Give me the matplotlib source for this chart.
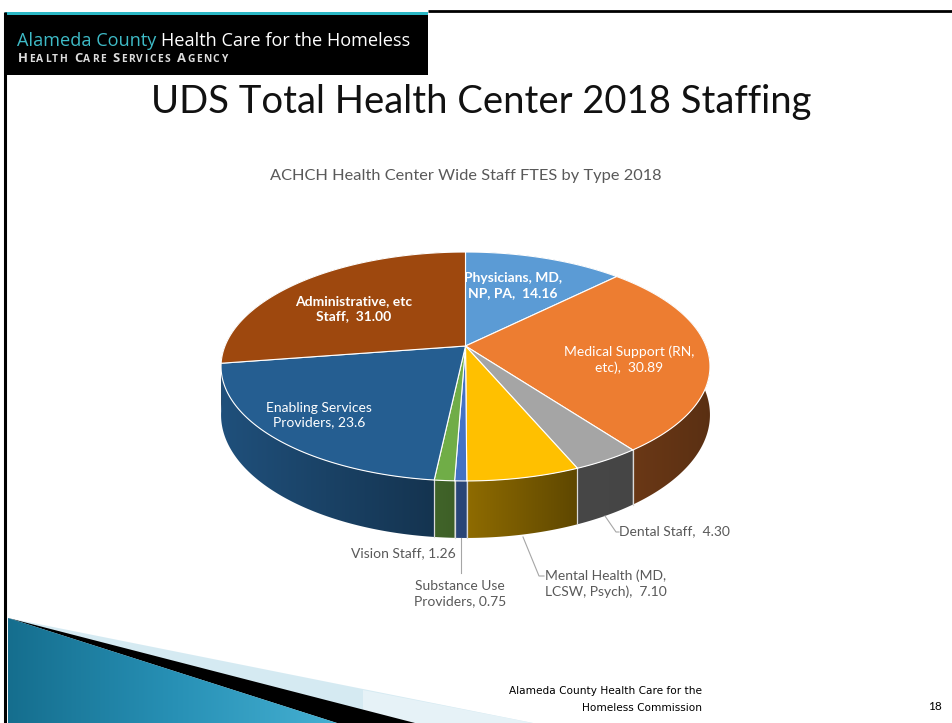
import numpy as np
import matplotlib.pyplot as plt
from matplotlib.patches import Polygon, Rectangle
from matplotlib.colors import to_rgb, LinearSegmentedColormap

# data, in Excel order (starts at 12 o'clock, goes clockwise)
names = ['Physicians, MD,\nNP, PA', 'Medical Support (RN,\netc)', 'Dental Staff',
         'Mental Health (MD,\nLCSW, Psych)', 'Substance Use\nProviders', 'Vision Staff',
         'Enabling Services\nProviders', 'Administrative, etc\nStaff']
ftes = [14.16, 30.89, 4.30, 7.10, 0.75, 1.26, 23.6, 31.00]
value_text = [' 14.16', ' 30.89', ' 4.30', ' 7.10', '0.75', '1.26', '23.6', ' 31.00']
colors = ['#5B9BD5', '#ED7D31', '#A5A5A5', '#FFC000', '#4472C4', '#70AD47', '#255E91', '#9E480E']

# side shading (light end, dark end) per slice
side_shade = [(0.5, 0.4), (0.45, 0.38), (0.43, 0.42), (0.56, 0.37), (0.62, 0.6),
              (0.58, 0.55), (0.85, 0.55), (0.5, 0.4)]

# label placement (pixels) and style
label_pos = [(513, 286), (629, 360), (619, 531), (545, 584), (460, 594), (456, 553),
             (319, 415), (354, 309)]
label_ha = ['center', 'center', 'left', 'left', 'center', 'right', 'center', 'center']
label_inside = [True, True, False, False, False, False, True, True]
label_bold = [True, False, False, False, False, False, False, True]
leaders = {2: [(605, 516), (616, 532), (619, 532)],
           3: [(523, 537), (539, 576), (544, 576)],
           4: [(461, 538), (461, 573)]}

# pie geometry (perspective view)
CX, CY = 465.5, 346.0
SX, SY = 240.5, 110.8
K = 0.179
DEPTH = 46.8

W, H = 953, 723
fig = plt.figure(figsize=(W / 100, H / 100), dpi=100)
ax = fig.add_axes([0, 0, 1, 1])
ax.set_xlim(0, W)
ax.set_ylim(H, 0)
ax.axis('off')
renderer = fig.canvas.get_renderer()

FONT = ['Lato', 'DejaVu Sans']
HEAD = ['Open Sans', 'DejaVu Sans']


def project(theta, z=0.0):
    th = np.radians(theta)
    X, Y = np.sin(th), np.cos(th)
    w = 1 + K * Y
    return CX + SX * X / w, CY - SY * Y / w + DEPTH * z / w


# slide frame / header
ax.plot([5.5, 5.5], [12, H], color='black', lw=2.2, solid_capstyle='butt')
ax.plot([428, W], [10.5, 10.5], color='black', lw=2, solid_capstyle='butt')
ax.add_patch(Rectangle((5, 15), 423, 60, color='black', lw=0))
ax.add_patch(Rectangle((5, 12), 423, 3.2, color='#2BB8C6', lw=0))
t1 = ax.text(17, 46.5, 'Alameda County ', color='#3EBBC7', fontsize=13.1,
             family=HEAD, va='baseline', ha='left')
x = 17 + t1.get_window_extent(renderer).width
ax.text(x, 46.5, 'Health Care for the Homeless', color='white', fontsize=13.1,
        family=HEAD, va='baseline', ha='left')

# small-caps agency line, spread to its width in the slide
chars = []
for w_i, word in enumerate(['Health', 'Care', 'Services', 'Agency']):
    if w_i:
        chars.append((' ', 7.4))
    chars.append((word[0], 9.4))
    chars += [(c.upper(), 7.4) for c in word[1:]]
kw = dict(color='#DCDCDC', fontweight='bold', family=HEAD, va='baseline', ha='left')
widths = []
for c, fs in chars:
    t = ax.text(0, 0, c if c != ' ' else 'n', fontsize=fs, **kw)
    widths.append(t.get_window_extent(renderer).width * (0.6 if c == ' ' else 1))
    t.remove()
track = (227 - 18 - sum(widths)) / (len(chars) - 1)
x = 18
for (c, fs), wd in zip(chars, widths):
    if c != ' ':
        ax.text(x, 62.5, c, fontsize=fs, **kw)
    x += wd + track

ax.text(481, 102, 'UDS Total Health Center 2018 Staffing', fontsize=27.5, family=FONT,
        ha='center', va='center', color='#111111')
ax.text(466, 176, 'ACHCH Health Center Wide Staff FTES by Type 2018', fontsize=11.75,
        family=FONT, ha='center', va='center', color='#595959')

# footer shapes
ax.add_patch(Polygon([(8, 618), (533, 723), (8, 723)], color='#D5EAF2', lw=0))
ax.add_patch(Polygon([(363, 690), (533, 723), (363, 723)], color='#E6F2F7', lw=0))
ax.add_patch(Polygon([(8, 618), (415, 723), (337, 723)], color='black', lw=0))
teal = Polygon([(8, 618), (337, 723), (8, 723)], lw=0, facecolor='none')
ax.add_patch(teal)
grad = np.linspace(0, 1, 256).reshape(1, -1)
cmap = LinearSegmentedColormap.from_list('t', ['#156E8E', '#2790B5', '#45B0D2'])
img = ax.imshow(grad, extent=(8, 337, 723, 618), cmap=cmap, aspect='auto', zorder=1)
img.set_clip_path(teal)
ax.set_xlim(0, W)
ax.set_ylim(H, 0)
ax.text(702, 691, 'Alameda County Health Care for the', fontsize=7.6,
        family=['Liberation Sans Narrow', 'DejaVu Sans'], ha='right', va='center')
ax.text(702, 708, 'Homeless Commission', fontsize=7.6,
        family=['Liberation Sans Narrow', 'DejaVu Sans'], ha='right', va='center')
ax.text(935, 707, '18', fontsize=8.5, family=FONT, ha='center', va='center')

# pie
total = sum(ftes)
bounds = np.concatenate([[0], np.cumsum(ftes) / total * 360])

# outer sides, back to front, each filled with its own left-to-right gradient
side_order = sorted(range(len(ftes)),
                    key=lambda i: -np.cos(np.radians(np.linspace(bounds[i], bounds[i + 1], 50))).min())
for i in side_order:
    ts = np.linspace(bounds[i], bounds[i + 1], 200)
    xt, yt = project(ts)
    xb, yb = project(ts[::-1], 1)
    poly = Polygon(list(zip(xt, yt)) + list(zip(xb, yb)), closed=True, facecolor='none',
                   lw=0, zorder=3)
    ax.add_patch(poly)
    xs_all = np.concatenate([xt, xb])
    vis = np.cos(np.radians(ts)) < -K
    xl, xr = (xt[vis].min(), xt[vis].max()) if vis.any() else (xs_all.min(), xs_all.max())
    xx = np.linspace(xs_all.min(), xs_all.max(), 300)
    frac = np.clip((xx - xl) / max(xr - xl, 1), 0, 1)
    hi, lo = side_shade[i]
    f = hi + (lo - hi) * frac
    rgb = np.array(to_rgb(colors[i]))[None, None, :] * f[None, :, None]
    im = ax.imshow(rgb, extent=(xs_all.min(), xs_all.max(), max(yt.max(), yb.max()),
                                min(yt.min(), yb.min())), aspect='auto', zorder=3,
                   interpolation='bilinear')
    im.set_clip_path(poly)
ax.set_xlim(0, W)
ax.set_ylim(H, 0)

# light edges where slices meet on the visible side
for bnd in bounds[:-1]:
    if np.cos(np.radians(bnd)) < -0.2:
        xa, ya = project(bnd)
        xb_, yb_ = project(bnd, 1)
        ax.plot([xa, xb_], [ya, yb_], color='#DADADA', lw=0.9, zorder=4)

# top faces
for i in range(len(ftes)):
    ts = np.linspace(bounds[i], bounds[i + 1], 200)
    xs, ys = project(ts)
    pts = [(CX, CY)] + list(zip(xs, ys))
    ax.add_patch(Polygon(pts, closed=True, facecolor=colors[i], edgecolor='white',
                         lw=0.8, zorder=5, joinstyle='round'))

# labels
for i in range(len(ftes)):
    txt = names[i] + ', ' + value_text[i]
    ax.text(*label_pos[i], txt, ha=label_ha[i], va='center', fontsize=10, family=FONT,
            fontweight='bold' if label_bold[i] else 'normal', linespacing=1.3,
            color='white' if label_inside[i] else '#595959', zorder=7)
for pts in leaders.values():
    xs, ys = zip(*pts)
    ax.plot(xs, ys, color='#A6A6A6', lw=0.8, zorder=6)

fig.savefig('out.png', dpi=100)
